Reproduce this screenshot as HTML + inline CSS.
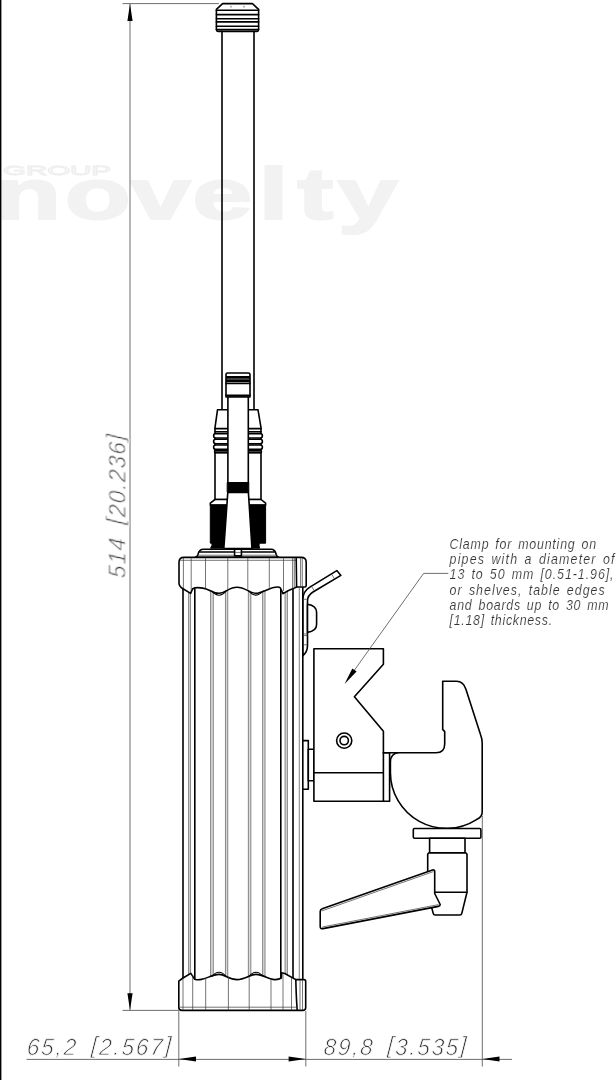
<!DOCTYPE html>
<html>
<head>
<meta charset="utf-8">
<title>Dimensional drawing</title>
<style>
html,body{margin:0;padding:0;background:#fff;}
body{width:616px;height:1080px;overflow:hidden;position:relative;}
svg{position:absolute;left:0;top:0;display:block;}
.b{fill:none;stroke:#000;stroke-width:1.6;stroke-linejoin:round;stroke-linecap:round;}
.bw{fill:#fff;stroke:#000;stroke-width:1.6;stroke-linejoin:round;stroke-linecap:round;}
.t{fill:none;stroke:#3a3a3a;stroke-width:0.7;}
.g{fill:none;stroke:#8c8c8c;stroke-width:1.1;}
.gb{fill:none;stroke:#dcdcdc;stroke-width:2.4;}
.d{fill:none;stroke:#4a4a4a;stroke-width:0.8;}
.k{fill:#000;stroke:#000;stroke-width:1;stroke-linejoin:round;}
.ah{fill:#000;stroke:none;}
.dim{font-family:"Liberation Sans",sans-serif;font-style:italic;font-size:23.5px;fill:#333;stroke:#fff;stroke-width:0.75px;word-spacing:5px;}
.note{font-family:"Liberation Sans",sans-serif;font-style:italic;font-size:13.8px;fill:#333;stroke:#fff;stroke-width:0.15px;word-spacing:2px;}
.wm{font-family:"Liberation Sans",sans-serif;font-weight:bold;font-size:72px;fill:#f2f2f2;stroke:#f2f2f2;stroke-width:2px;}
.wg{font-family:"Liberation Sans",sans-serif;font-size:12.5px;fill:none;stroke:#eeeeee;stroke-width:0.8px;}
</style>
</head>
<body>
<svg width="616" height="1080" viewBox="0 0 616 1080">
<rect x="0" y="0" width="616" height="1080" fill="#fff"/>

<!-- watermark -->
<g id="watermark" opacity="0.999">
<text class="wg" x="3" y="174.5" textLength="108" lengthAdjust="spacingAndGlyphs">GROUP</text>
<text class="wm" transform="translate(0,218.6) scale(1.5,1)" x="-3.1 43.1 87.2 128.2 172.3 198.1 225.1" y="0">novelty</text>
</g>

<!-- left border -->
<rect x="0" y="0" width="1.4" height="1080" fill="#000"/>


<!-- ANTENNA -->
<g id="antenna">
<path class="bw" d="M216.4,9.3 L222.6,3.6 L252.4,3.6 L258.6,9.3 L258.6,29.8 Q258.6,31.4 257,31.4 L218,31.4 Q216.4,31.4 216.4,29.8 Z"/>
<path class="b" d="M216.4,10.2H258.6 M216.4,14.6H258.6 M216.4,18.8H258.6 M216.4,21.9H258.6 M216.4,26.3H258.6 M216.4,29.6H258.6"/>
<path class="t" d="M231,5.8V7.6 M244,5.8V7.6"/>
<path class="b" d="M222,31.4V409.2 M254,31.4V409.2"/>
</g>

<!-- BOOT / CONNECTOR -->
<g id="connector">
<!-- boot -->
<path class="bw" d="M217.5,409.8 H258 L261,427.6 V499.5 H215 V427.6 Z"/>
<path class="b" d="M215,428.6H261 M215,452.5H261"/>
<path class="b" d="M215,431.8H261"/>
<rect class="bw" x="213.6" y="433.6" width="48.8" height="4.4" rx="2.2"/>
<rect class="bw" x="213.6" y="439.3" width="48.8" height="4.4" rx="2.2"/>
<rect class="bw" x="213.6" y="445" width="48.8" height="4.4" rx="2.2"/>
<rect class="bw" x="214.6" y="450.6" width="46.8" height="2" rx="0.8"/>
<!-- collar -->
<path class="bw" d="M215,499.5 H261 L265.6,503.2 V505 H210.3 V503.2 Z"/>
<path class="k" d="M210.3,505 H265.6 V543.2 H259.3 V544.4 H212 L210.3,543 Z"/>
<path class="k" d="M212.5,544.4 H223.3 L223.6,548.2 H210.5 Z"/>
<path class="k" d="M252,544.4 H258.8 L259.6,548.2 H252.2 Z"/>
<!-- threaded top -->
<path class="bw" d="M226,397 V374.6 Q226,373 227.6,373 H248.4 Q250,373 250,374.6 V397 Z"/>
<path d="M226,377.3H250 M226,380.7H250" stroke="#000" stroke-width="2.7" fill="none"/>
<path class="b" d="M226,383.4H250 M226,395.4H250"/>
<!-- inner tube -->
<rect class="bw" x="227.9" y="397" width="20.4" height="86"/>
<!-- lower thread -->
<rect class="k" x="227.2" y="482.6" width="21.6" height="9.6"/>
<!-- taper -->
<path class="bw" d="M227.8,492.4 H248.4 L252,548.6 H223.8 Z"/>
</g>

<!-- BODY -->
<g id="body">
<!-- top plate -->
<path class="bw" d="M195.5,557.3 Q197.3,556.6 198,554.5 Q199,549.3 203.5,549.3 H271 Q275.2,549.3 276.2,554.5 Q276.8,556.6 278.6,557.3 Z"/>
<path class="b" d="M199.6,552H274.6"/>
<path class="t" d="M198,555.2H276.5"/>
<rect class="bw" x="234.6" y="549.3" width="6.8" height="6.6" stroke-width="1"/>
<path class="t" d="M234.6,552.4H241.4"/>

<!-- body fill -->
<rect x="182.7" y="585" width="120.2" height="400" fill="#fff"/>
<!-- body vertical lines thin (grey) -->
<path class="gb" d="M189.5,592V978 M212,592V975 M226.6,591V976 M249.6,592V976 M263.8,591V976 M286.2,591V977"/>
<path class="g" d="M188.6,590V978 M190.5,592V978 M210.6,591V976 M213.3,592V975 M225.5,591V976 M227.7,590V977 M248.4,591V977 M250.8,592V976 M262.6,591V976 M265,590V977 M285.1,591V977 M287.4,590V977 M299.3,588V979"/>
<!-- body bold lines -->
<path class="b" d="M183,588V979 M194.8,589V979 M280.8,589V978 M293,589V979 M302.8,587V980"/>

<!-- top cap -->
<path class="bw" d="M184,557.4 H301.2 Q306.2,557.4 306.2,562.4 V585.5 Q306.2,587 304.7,587 H296.6 L293.2,588.6 Q288,590.5 283,593.7 L280.4,588 Q279.6,587 277.5,587 C270,587 262,593.3 256,593.3 C250,593.3 245,587.3 237,587.3 C229,587.3 225,593.3 219,593.3 C213,593.3 209,589 203,588.1 C199,587.4 195,587.4 192.7,588.7 L190.6,593.4 L183,588.8 Q179,586.5 179,583 V562.4 Q179,557.4 184,557.4 Z"/>
<path class="t" d="M183.4,558V588 M191.2,558V591 M205.5,558V588.5 M227.8,558V590 M247.8,558V590.5 M269.3,558V588.5 M283.5,558V591 M292.6,558V588.5 M294.3,558V588 M300.6,558V587 M302.3,558V587 M180,560.3H296"/>
<path class="b" d="M296.2,557.6 L296.6,587"/>
<path d="M211.5,590.9 Q219,599.6 226.5,590.7 M248.5,590.7 Q256,599.6 263.5,590.5" fill="none" stroke="#000" stroke-width="1.1"/>

<!-- bottom cap -->
<path class="bw" d="M178.8,981.2 L183,978 L190.8,973.4 L194.7,979.2 C197,980 199,980 201.5,979.4 C207,978.4 213,974.4 219,974.4 C225,974.4 229,979.6 237,979.6 C245,979.6 250,974.4 256,974.4 C262,974.4 268,978.6 273,979.4 C275.5,979.8 279,979.5 281.4,978 L281.6,972.8 L284.8,973.5 L295.8,979.6 H304 Q305.7,979.6 305.7,981.3 V1007.4 Q305.7,1010.4 302.7,1010.4 H182 Q178.8,1010.4 178.8,1007.2 Z"/>
<path class="t" d="M183,979V1010 M192.7,975V1010 M205.7,978V1010 M228.4,977V1010 M249.2,976V1010 M271,979V1010 M283,974V1010 M291.5,978V1010 M300,980V1010 M302.5,980V1010"/>
<path class="t" d="M180,1007.2H296"/>
<path class="b" d="M295.8,979.6 Q296.3,1000 297.2,1010"/>
<path d="M211.5,976.8 Q219,967.8 226.5,976.8 M248.5,976.8 Q256,967.8 263.5,976.8" fill="none" stroke="#000" stroke-width="1.1"/>
</g>

<!-- LATCH / LEVER on body side -->
<g id="latch">
<path class="bw" d="M303,655.6 V599 Q303,591.5 309.5,587.4 L336.8,570.6 L340.9,575.4 L313,592 Q307.5,595.5 307.5,601 V646 Q307.3,652 303,655.6 Z"/>
<path class="t" d="M303,599.3H307.5 M303,633.9H307.5 M303,635.6H307.5 M303,644.8H307.5 M311,585.6 L314.2,590.6 M331.5,574 L334.6,579"/>
<path class="bw" d="M307.5,604.2 Q316.6,605.5 316.6,612.5 V624.5 Q316.6,631 307.5,632.4 Z"/>
<!-- small part -->
<rect class="bw" x="302.8" y="740.6" width="5.5" height="48.6"/>
<rect class="bw" x="308.3" y="749.3" width="5.6" height="31.4"/>
</g>

<!-- CLAMP -->
<g id="clamp">
<!-- block -->
<path class="bw" d="M313.9,648.8 H383.4 V664.2 L354.4,696.7 L383.4,731.2 V752.8 H389.6 V801.3 H313.9 Z"/>
<path class="b" d="M313.9,772.8H383.4 M383.4,752.8V801.3"/>
<circle class="b" cx="344.2" cy="740.6" r="7.6"/>
<circle class="b" cx="344.2" cy="740.6" r="4.2"/>
<!-- hook jaw -->
<path class="bw" d="M383.4,752.8 H436 Q444.7,752.8 444.7,744 V731.6 L442.7,729.4 V681.3 H456.5 Q463.5,681.3 466,689.5 L480.5,734.5 Q482.2,739 482.2,743 V812 Q482.2,817 476.5,819.6 A56,56 0 0 1 390.4,772 V762.5 Q390.4,752.8 399.5,752.8"/>
<!-- plate + screw -->
<rect class="bw" x="413.3" y="828.5" width="67.6" height="9.7" rx="1.2"/>
<rect class="bw" x="429.6" y="838.2" width="35.4" height="14.6"/>
<path class="bw" d="M428.6,853 H466 L467,854.2 V892.2 L461.8,913.4 Q461.4,915 459.8,915 H435.2 Q433.6,915 433.2,913.4 L427.7,892.2 V854.2 Z"/>
<path class="b" d="M435,892.2H467"/>
<!-- handle -->
<path class="bw" d="M320.2,911.5 Q320.2,909.3 322.2,908.8 L432.5,870 Q434.7,869.5 434.7,871.5 V893.5 L440.2,904.5 Q440.2,906 438.3,906.4 L323,928.6 Q320.2,929 320.2,926.5 Z"/>
<path class="t" d="M321.6,911 L433.4,871.6 M322.4,927 L438.6,904.6"/>
</g>

<!-- DIMENSIONS -->
<g id="dims">
<line class="d" x1="122.5" y1="3.6" x2="219" y2="3.6"/>
<line class="d" x1="122.5" y1="1010.4" x2="179" y2="1010.4"/>
<line class="d" x1="130" y1="4" x2="130" y2="1010"/>
<polygon class="ah" points="130,3.8 127.4,21 132.6,21"/>
<polygon class="ah" points="130,1010.3 127.4,993.2 132.6,993.2"/>

<line class="d" x1="178.8" y1="1011" x2="178.8" y2="1066.5"/>
<line class="d" x1="305.8" y1="1011" x2="305.8" y2="1066.5"/>
<line class="d" x1="482.3" y1="816" x2="482.3" y2="1066.5"/>
<line class="d" x1="26.5" y1="1059.4" x2="512" y2="1059.4"/>
<polygon class="ah" points="178.8,1059 196,1056.5 196,1061.5"/>
<polygon class="ah" points="305.8,1059 288.6,1056.5 288.6,1061.5"/>
<polygon class="ah" points="482.3,1059 499.5,1056.5 499.5,1061.5"/>

<!-- leader -->
<polyline class="d" points="448.3,573.4 423.6,573.4 352,673.5"/>
<polygon class="ah" points="344.6,684 352.3,668.4 356.6,671.5"/>
</g>

<!-- TEXT -->
<g id="labels" opacity="0.999">
<text class="dim" transform="translate(26.5,1055.2) skewX(-4) scale(0.95,1)" x="0" y="0" textLength="151.5" dy="0 0 0 0 0 -2.5 2.5 0 0 0 0 -2.5" lengthAdjust="spacing">65,2 [2.567]</text>
<text class="dim" transform="translate(323.3,1055.2) skewX(-4) scale(0.95,1)" x="0" y="0" textLength="150.0" dy="0 0 0 0 0 -2.5 2.5 0 0 0 0 -2.5" lengthAdjust="spacing">89,8 [3.535]</text>
<text class="dim" transform="translate(125.6,578.5) rotate(-90) skewX(-4) scale(0.95,1)" x="0" y="0" textLength="151.1" dy="0 0 0 0 -2.5 2.5 0 0 0 0 0 -2.5" lengthAdjust="spacing">514 [20.236]</text>
<text class="note" transform="translate(449.6,548.5) scale(0.9,1)" x="0" y="0" textLength="162.8" lengthAdjust="spacing">Clamp for mounting on</text>
<text class="note" transform="translate(449.6,563.8) scale(0.9,1)" x="0" y="0" textLength="183.3" lengthAdjust="spacing">pipes with a diameter of</text>
<text class="note" transform="translate(449.6,579.2) scale(0.9,1)" x="0" y="0" textLength="182.2" lengthAdjust="spacing">13 to 50 mm [0.51-1.96],</text>
<text class="note" transform="translate(449.6,594.6) scale(0.9,1)" x="0" y="0" textLength="172.3" lengthAdjust="spacing">or shelves, table edges</text>
<text class="note" transform="translate(449.6,610) scale(0.9,1)" x="0" y="0" textLength="176.7" lengthAdjust="spacing">and boards up to 30 mm</text>
<text class="note" transform="translate(449.6,625.4) scale(0.9,1)" x="0" y="0" textLength="113.9" lengthAdjust="spacing">[1.18] thickness.</text>
</g>
</svg>
</body>
</html>
